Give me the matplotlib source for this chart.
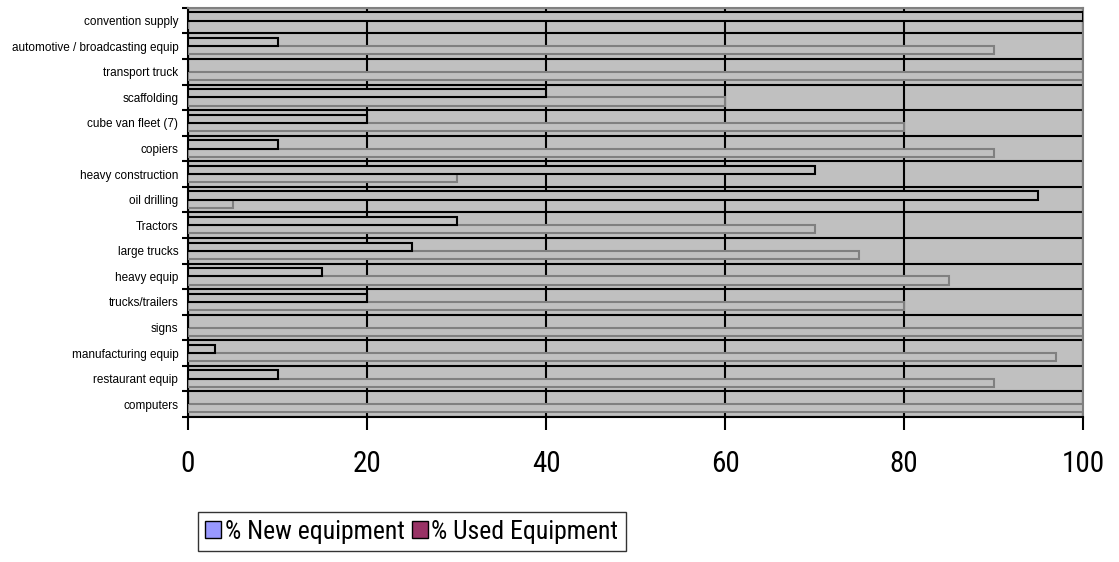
import matplotlib
matplotlib.use("Agg")
import matplotlib.pyplot as plt
from matplotlib.patches import Patch
import numpy as np

# categories listed bottom to top, as in the chart
categories = ["computers", "restaurant equip", "manufacturing equip", "signs",
              "trucks/trailers", "heavy equip", "large trucks", "Tractors",
              "oil drilling", "heavy construction", "copiers", "cube van fleet (7)",
              "scaffolding", "transport truck", "automotive / broadcasting equip",
              "convention supply"]
pct_new = [100, 90, 97, 100, 80, 85, 75, 70, 5, 30, 90, 80, 60, 100, 90, 0]
pct_used = [0, 10, 3, 0, 20, 15, 25, 30, 95, 70, 10, 20, 40, 0, 10, 100]
x_ticks = [0, 20, 40, 60, 80, 100]
series_names = ["% New equipment", "% Used Equipment"]

if __name__ == "__main__":
    matplotlib.rcParams.update({'font.family': ['Liberation Sans', 'DejaVu Sans']})
    # the big labels in the chart are drawn in a narrow face
    narrow = ['Roboto Condensed', 'PT Sans Narrow', 'Liberation Sans']

    fig = plt.figure(figsize=(11.19, 5.62), dpi=100)
    ax = fig.add_axes([0.168, 0.258, 0.8, 0.728])
    ax.set_facecolor("#c0c0c0")

    y = np.arange(len(categories))
    h = 0.32
    # used bar sits on top of the new bar within each category
    ax.barh(y - h / 2, pct_new, height=h, color="#c0c0c0", edgecolor="#808080", linewidth=1.5, zorder=3)
    ax.barh(y + h / 2, pct_used, height=h, color="#c0c0c0", edgecolor="black", linewidth=1.5, zorder=3)

    ax.set_xlim(0, 100)
    ax.set_ylim(-0.5, len(categories) - 0.5)

    # category boundaries as major ticks + gridlines, labels on minor ticks
    ax.set_yticks(np.arange(len(categories) + 1) - 0.5)
    ax.set_yticklabels([])
    ax.set_yticks(y, minor=True)
    ax.set_yticklabels(categories, minor=True, fontsize=8.5)
    ax.tick_params(axis="y", which="minor", length=0, pad=7)
    ax.tick_params(axis="y", which="major", length=4, width=1.5, direction="out")

    ax.set_xticks(x_ticks)
    ax.set_xticklabels([str(v) for v in x_ticks], fontsize=21, family=narrow)
    ax.tick_params(axis="x", length=9, width=1.5, pad=15)

    ax.grid(True, which="major", color="black", linewidth=1.5, zorder=1)
    ax.set_axisbelow(True)

    for side in ["top", "right"]:
        ax.spines[side].set_color("#808080")
        ax.spines[side].set_linewidth(1.5)
    for side in ["left", "bottom"]:
        ax.spines[side].set_color("black")
        ax.spines[side].set_linewidth(1.5)

    handles = [Patch(facecolor="#9999ff", edgecolor="black", label=series_names[0]),
               Patch(facecolor="#993366", edgecolor="black", label=series_names[1])]
    leg = fig.legend(handles=handles, loc="upper center", bbox_to_anchor=(0.368, 0.089),
                     ncol=2, prop={'family': narrow, 'size': 18.5}, frameon=True, fancybox=False,
                     handlelength=0.6, handleheight=0.6, handletextpad=0.15,
                     columnspacing=0.3, borderpad=0.3, borderaxespad=0)
    leg.get_frame().set_edgecolor("black")
    leg.get_frame().set_linewidth(1.0)

    plt.savefig("out.png", dpi=100)
